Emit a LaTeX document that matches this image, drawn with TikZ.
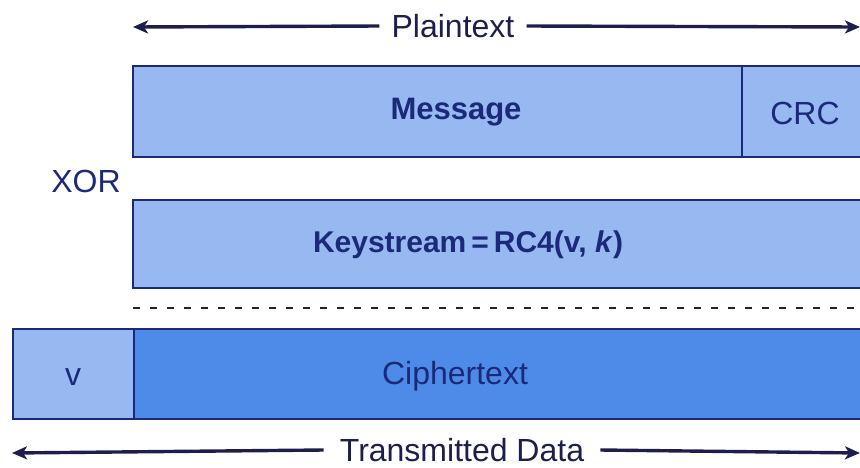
\documentclass[tikz,border=0pt]{standalone}
\usepackage{fontspec}
\setmainfont{Liberation Sans}
\usetikzlibrary{arrows.meta}
\definecolor{navy}{HTML}{1B2A78}
\definecolor{ink}{HTML}{1E1E4E}
\definecolor{lightfill}{HTML}{98B8F2}
\definecolor{darkfill}{HTML}{4E8AE8}
\tikzset{
  field/.style={draw=navy, line width=2.6pt, anchor=north west, inner sep=0pt, outer sep=0pt},
  lightfield/.style={field, fill=lightfill},
  darkfield/.style={field, fill=darkfill},
  label/.style={text=navy, font=\fontsize{32}{34}\selectfont, inner sep=0pt},
  boldlabel/.style={label, font=\fontsize{31}{34}\selectfont\bfseries},
  span/.style={draw=ink, line width=3.4pt, -{Stealth[length=15pt,width=13pt,inset=4pt]}},
  spanlabel/.style={text=ink, font=\fontsize{32}{34}\selectfont, inner xsep=14pt, inner ysep=0pt},
}
\begin{document}
\begin{tikzpicture}[x=1pt,y=-1pt]
\useasboundingbox (0,0) rectangle (860,467);
\clip (0,0) rectangle (860,467);

% plaintext extent
\node[spanlabel, inner xsep=12pt] (plain) at (453,26) {Plaintext};
\coordinate (plainL) at (133,27);
\coordinate (plainR) at (860,27);
\draw[span] (plain.west) -- (plainL);
\draw[span] (plain.east) -- (plainR);

% plaintext fields
\node[lightfield, minimum width=609pt, minimum height=91pt] (msg) at (133,66) {};
\node[lightfield, minimum width=140pt, minimum height=91pt] (crc) at (742,66) {};
\node[boldlabel] (msgtxt) at (456,112) {Message};
\node[label] (crctxt) at (805,113) {CRC};

\node[label, text=navy] (xor) at (86,181) {XOR};

% keystream
\node[lightfield, minimum width=745pt, minimum height=88pt] (ks) at (133,200) {};
\node[boldlabel, font=\fontsize{30}{34}\selectfont\bfseries] (kstxt) at (468,245) {Keystream\,=\,RC4(v, \textit{k})};

% result separator
\coordinate (sepL) at (133,308);
\coordinate (sepR) at (860,308);
\draw[ink, line width=1.6pt, dash pattern=on 7pt off 10pt] (sepL) -- (sepR);

% transmitted fields
\node[lightfield, minimum width=121pt, minimum height=90pt] (iv) at (13,329) {};
\node[darkfield, minimum width=745pt, minimum height=90pt] (ct) at (134,329) {};
\node[label] (ivtxt) at (73,377) {v};
\node[label] (cttxt) at (455,376) {Ciphertext};

% transmitted extent
\node[spanlabel, inner xsep=16pt] (trans) at (462,450) {Transmitted Data};
\coordinate (transL) at (12,453);
\coordinate (transR) at (860,453);
\draw[span] (trans.west) -- (transL);
\draw[span] (trans.east) -- (transR);
\end{tikzpicture}
\end{document}
